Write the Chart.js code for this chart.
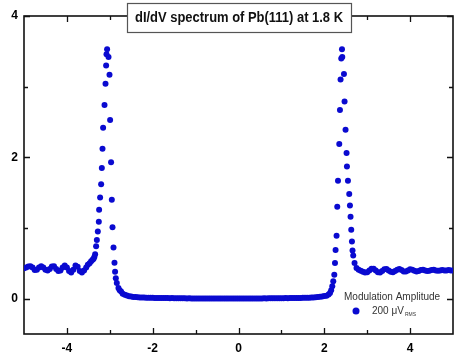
<!DOCTYPE html>
<html>
<head>
<meta charset="utf-8">
<script src="https://cdn.jsdelivr.net/npm/chart.js@4.4.1/dist/chart.umd.min.js"></script>
<style>
html,body{margin:0;padding:0;background:#fff;}
canvas{display:block;}
</style>
</head>
<body>
<canvas id="c" width="458" height="357"></canvas>
<script>
// ---- data ----
const chartTitle = "dI/dV spectrum of Pb(111) at 1.8 K";
const legendHeader = "Modulation Amplitude";
const seriesLabel = "200 \u03bcV";
const seriesLabelSub = "RMS";

const xMajorTicks = [-4, -2, 0, 2, 4];
const xMinorTicks = [-3, -1, 1, 3];
const yMajorTicks = [0, 2, 4];
const yMinorTicks = [1, 3];

// bias (V)
const biasLeftWave = [-5.00,-4.95,-4.90,-4.85,-4.80,-4.75,-4.70,-4.65,-4.60,-4.55,-4.50,-4.45,-4.40,-4.35,-4.30,-4.25,-4.20,-4.15,-4.10,-4.05,-4.00,-3.95,-3.90,-3.85,-3.80,-3.75,-3.70,-3.65,-3.60,-3.55];
const dIdVLeftWave = [0.43,0.44,0.455,0.46,0.44,0.405,0.41,0.44,0.46,0.44,0.41,0.40,0.42,0.455,0.46,0.42,0.39,0.40,0.44,0.47,0.44,0.39,0.37,0.41,0.47,0.45,0.39,0.37,0.40,0.44];

const biasLeftPeak = [-3.512,-3.470,-3.435,-3.400,-3.379,-3.360,-3.342,-3.319,-3.302,-3.279,-3.256,-3.249,-3.226,-3.202,-3.186,-3.170,-3.156,-3.123,-3.100,-3.086,-3.077,-3.063,-3.030,-3.007,-2.993,-2.970,-2.953,-2.937,-2.914,-2.891,-2.877,-2.860,-2.837,-2.798,-2.770,-2.737];
const dIdVLeftPeak = [0.48,0.50,0.53,0.55,0.565,0.59,0.63,0.74,0.83,0.95,1.09,1.26,1.43,1.62,1.85,2.12,2.42,2.74,3.04,3.30,3.46,3.53,3.42,3.17,2.53,1.93,1.40,1.01,0.725,0.51,0.38,0.29,0.22,0.15,0.12,0.10];

const biasGap = [-2.70,-2.65,-2.60,-2.55,-2.50,-2.45,-2.40,-2.35,-2.30,-2.25,-2.20,-2.15,-2.10,-2.05,-2.00,-1.95,-1.90,-1.85,-1.80,-1.75,-1.70,-1.65,-1.60,-1.55,-1.50,-1.45,-1.40,-1.35,-1.30,-1.25,-1.20,-1.15,-1.10,-1.05,-1.00,-0.95,-0.90,-0.85,-0.80,-0.75,-0.70,-0.65,-0.60,-0.55,-0.50,-0.45,-0.40,-0.35,-0.30,-0.25,-0.20,-0.15,-0.10,-0.05,0.00,0.05,0.10,0.15,0.20,0.25,0.30,0.35,0.40,0.45,0.50,0.55,0.60,0.65,0.70,0.75,0.80,0.85,0.90,0.95,1.00,1.05,1.10,1.15,1.20,1.25,1.30,1.35,1.40,1.45,1.50,1.55,1.60,1.65,1.70,1.75,1.80,1.85,1.90,1.95,2.00];
const dIdVGap = [0.07,0.055,0.045,0.035,0.03,0.025,0.022,0.02,0.018,0.016,0.015,0.014,0.013,0.012,0.012,0.011,0.010,0.010,0.009,0.009,0.008,0.008,0.007,0.008,0.007,0.006,0.006,0.005,0.006,0.005,0.004,0.005,0.004,0.003,0.004,0.003,0.003,0.002,0.003,0.002,0.002,0.003,0.002,0.001,0.002,0.001,0.002,0.001,0.002,0.001,0.002,0.002,0.001,0.002,0.002,0.003,0.002,0.003,0.003,0.002,0.003,0.003,0.004,0.003,0.004,0.004,0.005,0.004,0.005,0.005,0.006,0.005,0.006,0.006,0.007,0.007,0.008,0.007,0.008,0.009,0.009,0.010,0.010,0.011,0.012,0.012,0.013,0.014,0.015,0.017,0.019,0.022,0.026,0.030,0.036];

const biasRightPeak = [2.053,2.100,2.133,2.160,2.186,2.209,2.233,2.249,2.263,2.286,2.302,2.319,2.349,2.365,2.379,2.395,2.412,2.419,2.458,2.472,2.495,2.519,2.528,2.551,2.581,2.598,2.612,2.628,2.644,2.658,2.674,2.705,2.751];
const dIdVRightPeak = [0.042,0.06,0.08,0.12,0.174,0.245,0.34,0.505,0.69,0.89,1.30,1.67,2.19,2.67,3.10,3.40,3.53,3.42,3.18,2.79,2.39,2.06,1.87,1.67,1.48,1.32,1.16,0.975,0.81,0.68,0.61,0.505,0.434];

const biasRightWave = [2.80,2.85,2.90,2.95,3.00,3.05,3.10,3.15,3.20,3.25,3.30,3.35,3.40,3.45,3.50,3.55,3.60,3.65,3.70,3.75,3.80,3.85,3.90,3.95,4.00,4.05,4.10,4.15,4.20,4.25,4.30,4.35,4.40,4.45,4.50,4.55,4.60,4.65,4.70,4.75,4.80,4.85,4.90,4.95,5.00];
const dIdVRightWave = [0.41,0.395,0.38,0.37,0.375,0.40,0.425,0.425,0.40,0.375,0.37,0.39,0.415,0.42,0.40,0.38,0.375,0.39,0.41,0.42,0.405,0.385,0.385,0.40,0.415,0.41,0.395,0.385,0.39,0.405,0.41,0.40,0.39,0.395,0.405,0.41,0.40,0.395,0.40,0.405,0.40,0.40,0.405,0.40,0.40];

// ---- build points ----
const bias = [].concat(biasLeftWave, biasLeftPeak, biasGap, biasRightPeak, biasRightWave);
const dIdV = [].concat(dIdVLeftWave, dIdVLeftPeak, dIdVGap, dIdVRightPeak, dIdVRightWave);
const points = bias.map((v, i) => ({x: v, y: dIdV[i]}));

const DOT = 'rgb(10,10,208)';
const FONT = '"Liberation Sans", Arial, sans-serif';

const framePlugin = {
  id: 'frame',
  beforeDatasetsDraw(chart) {
    const {ctx, chartArea: a, scales: {x, y}} = chart;
    ctx.save();
    ctx.strokeStyle = '#111';
    ctx.lineWidth = 1.6;
    ctx.strokeRect(a.left, a.top, a.right - a.left, a.bottom - a.top);
    ctx.lineWidth = 1.3;
    ctx.beginPath();
    const xt = (vals, len) => vals.forEach(v => {
      const p = Math.round(x.getPixelForValue(v)) + 0.5;
      ctx.moveTo(p, a.bottom); ctx.lineTo(p, a.bottom - len);
      ctx.moveTo(p, a.top); ctx.lineTo(p, a.top + len);
    });
    const yt = (vals, len) => vals.forEach(v => {
      const p = Math.round(y.getPixelForValue(v)) + 0.5;
      ctx.moveTo(a.left, p); ctx.lineTo(a.left + len, p);
      ctx.moveTo(a.right, p); ctx.lineTo(a.right - len, p);
    });
    xt(xMajorTicks, 6); xt(xMinorTicks, 4);
    yt(yMajorTicks, 6); yt(yMinorTicks, 4);
    ctx.stroke();
    ctx.restore();
  },
  afterDraw(chart) {
    const {ctx} = chart;
    ctx.save();
    // title box
    const bx = 127, by = 3, bw = 224, bh = 29;
    ctx.fillStyle = '#fff';
    ctx.fillRect(bx, by, bw, bh);
    ctx.strokeStyle = '#555';
    ctx.lineWidth = 1.2;
    ctx.strokeRect(bx + 0.5, by + 0.5, bw, bh);
    ctx.fillStyle = '#111';
    ctx.font = 'bold 14px ' + FONT;
    ctx.textBaseline = 'middle';
    ctx.textAlign = 'center';
    const w = ctx.measureText(chartTitle).width;
    const sx = Math.min(1, 208 / w);
    ctx.translate(bx + bw / 2, by + bh / 2 + 1);
    ctx.scale(sx, 1);
    ctx.fillText(chartTitle, 0, 0);
    ctx.setTransform(1, 0, 0, 1, 0, 0);
    // legend
    ctx.textAlign = 'left';
    ctx.fillStyle = '#333';
    ctx.font = '10px ' + FONT;
    ctx.fillText(legendHeader, 344, 297);
    ctx.fillStyle = DOT;
    ctx.beginPath();
    ctx.arc(356, 311, 3.5, 0, Math.PI * 2);
    ctx.fill();
    ctx.fillStyle = '#333';
    ctx.font = '10px ' + FONT;
    ctx.fillText(seriesLabel, 372, 311);
    const lw = ctx.measureText(seriesLabel).width;
    ctx.font = '5px ' + FONT;
    ctx.fillText(seriesLabelSub, 372 + lw + 1, 315);
    ctx.restore();
  }
};

new Chart(document.getElementById('c'), {
  type: 'scatter',
  data: {
    datasets: [{
      label: seriesLabel + seriesLabelSub,
      data: points,
      pointRadius: 3,
      pointBackgroundColor: DOT,
      pointBorderWidth: 0,
      showLine: false
    }]
  },
  options: {
    responsive: false,
    animation: false,
    layout: {padding: {left: 0, right: 5, top: 16, bottom: 0}},
    plugins: {legend: {display: false}, title: {display: false}, tooltip: {enabled: false}},
    scales: {
      x: {
        type: 'linear', min: -5, max: 5,
        afterBuildTicks: s => { s.ticks = xMajorTicks.map(v => ({value: v})); },
        afterFit: s => { s.height = 23; },
        grid: {display: false, drawTicks: false},
        border: {display: false},
        ticks: {color: '#000', font: {family: FONT, size: 12, weight: 'bold'}, padding: 7, maxRotation: 0, autoSkip: false}
      },
      y: {
        type: 'linear', min: -0.5, max: 4,
        afterBuildTicks: s => { s.ticks = yMajorTicks.map(v => ({value: v})); },
        afterFit: s => { s.width = 24; },
        grid: {display: false, drawTicks: false},
        border: {display: false},
        ticks: {color: '#000', font: {family: FONT, size: 12, weight: 'bold'}, padding: 6, autoSkip: false}
      }
    }
  },
  plugins: [framePlugin]
});
</script>
</body>
</html>
